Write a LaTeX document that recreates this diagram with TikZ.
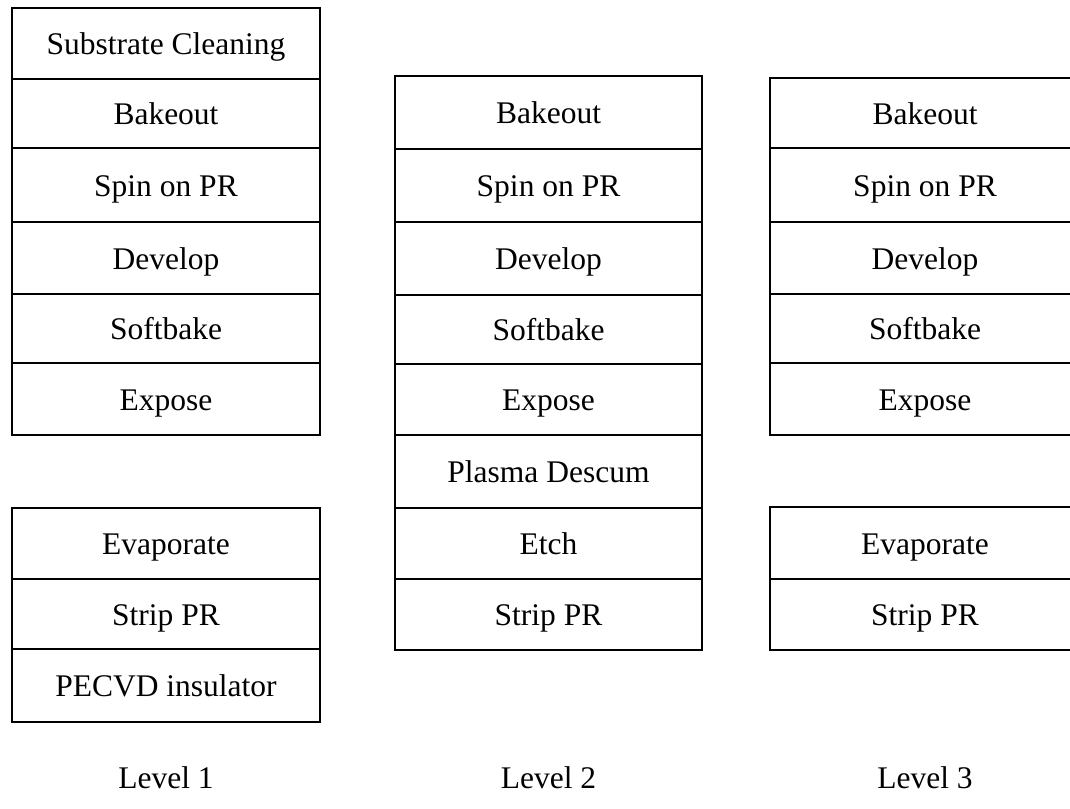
\documentclass[tikz,border=0pt]{standalone}
\usepackage{fontspec}
\setmainfont{Liberation Serif}
\begin{document}
\begin{tikzpicture}[x=1pt,y=-1pt,
  cell/.style={draw, line width=2.6pt, inner sep=0pt,
    text height=22pt, text depth=0pt,
    font=\fontsize{31.5}{36}\selectfont},
  c1/.style={cell, minimum width=308pt},
  c2/.style={cell, minimum width=307pt},
  c3/.style={cell, minimum width=310pt},
  lvl/.style={anchor=base, font=\fontsize{31.5}{36}\selectfont}]
\useasboundingbox (0,0) rectangle (1070,808);

% Level 1 (x 12--320)
\node[c1, minimum height=71pt] (a1) at (166,43.5)  {Substrate Cleaning};
\node[c1, minimum height=69pt] (a2) at (166,113.5) {Bakeout};
\node[c1, minimum height=74pt] (a3) at (166,185)   {Spin on PR};
\node[c1, minimum height=72pt] (a4) at (166,258)   {Develop};
\node[c1, minimum height=69pt] (a5) at (166,328.5) {Softbake};
\node[c1, minimum height=72pt] (a6) at (166,399)   {Expose};
\node[c1, minimum height=71pt] (a7) at (166,543.5) {Evaporate};
\node[c1, minimum height=70pt] (a8) at (166,614)   {Strip PR};
\node[c1, minimum height=73pt] (a9) at (166,685.5) {PECVD insulator};

% Level 2 (x 395--702)
\node[c2, minimum height=73pt] (b1) at (548.5,112.5) {Bakeout};
\node[c2, minimum height=73pt] (b2) at (548.5,185.5) {Spin on PR};
\node[c2, minimum height=73pt] (b3) at (548.5,258.5) {Develop};
\node[c2, minimum height=69pt] (b4) at (548.5,329.5) {Softbake};
\node[c2, minimum height=71pt] (b5) at (548.5,399.5) {Expose};
\node[c2, minimum height=73pt] (b6) at (548.5,471.5) {Plasma Descum};
\node[c2, minimum height=71pt] (b7) at (548.5,543.5) {Etch};
\node[c2, minimum height=71pt] (b8) at (548.5,614.5) {Strip PR};

% Level 3 (x 770--1080, right edge runs off the page)
\node[c3, minimum height=70pt] (d1) at (925,113)   {Bakeout};
\node[c3, minimum height=74pt] (d2) at (925,185)   {Spin on PR};
\node[c3, minimum height=72pt] (d3) at (925,258)   {Develop};
\node[c3, minimum height=69pt] (d4) at (925,328.5) {Softbake};
\node[c3, minimum height=72pt] (d5) at (925,399)   {Expose};
\node[c3, minimum height=72pt] (d6) at (925,543)   {Evaporate};
\node[c3, minimum height=71pt] (d7) at (925,614.5) {Strip PR};

% captions
\node[lvl] (l1) at (166,788)   {Level 1};
\node[lvl] (l2) at (548.5,788) {Level 2};
\node[lvl] (l3) at (925,788)   {Level 3};
\end{tikzpicture}
\end{document}
